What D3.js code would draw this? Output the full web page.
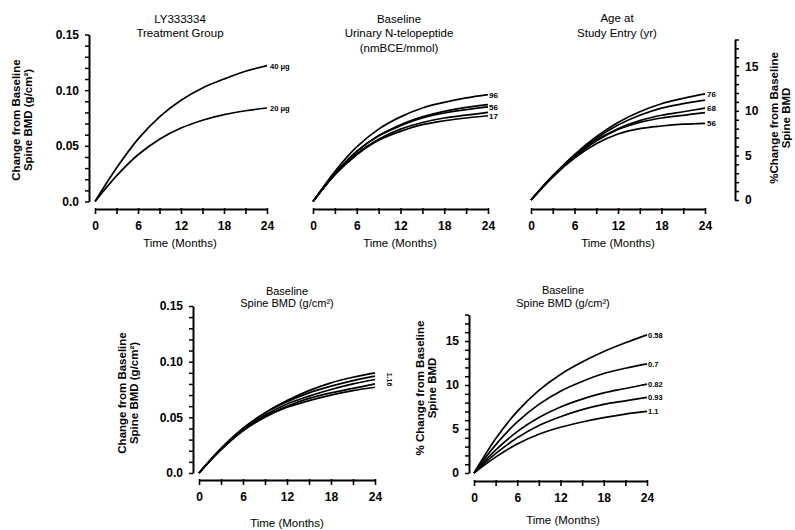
<!DOCTYPE html>
<html><head><meta charset="utf-8">
<script src="https://cdn.jsdelivr.net/npm/d3@7"></script>
<style>
body{margin:0;background:#fff;}
text{font-family:"Liberation Sans",Arial,sans-serif;fill:#000;}
</style></head><body>
<svg id="c" width="795" height="530"></svg>
<script>
const months = [0,3,6,9,12,15,18,21,24];
const xTicks = [0,3,6,9,12,15,18,21,24];
const xTickLabels = [0,6,12,18,24];
const bmdTickLabels = [0,0.05,0.10,0.15];
const pctTickLabels = [0,5,10,15];

// Panel 1: treatment group (g/cm2)
const treatNames = ["40 μg","20 μg"];
const treat40 = [0,0.030,0.056,0.076,0.091,0.102,0.110,0.117,0.122];
const treat20 = [0,0.023,0.042,0.056,0.066,0.073,0.078,0.0815,0.084];

// Panel 2: baseline urinary NTX (g/cm2)
const ntxLabels = ["96","","56","","17"];
const ntx1 = [0,0.027,0.049,0.065,0.076,0.084,0.089,0.093,0.096];
const ntx2 = [0,0.025,0.045,0.059,0.069,0.076,0.081,0.0845,0.087];
const ntx3 = [0,0.025,0.045,0.059,0.068,0.075,0.0795,0.0825,0.085];
const ntx4 = [0,0.024,0.043,0.056,0.065,0.071,0.075,0.0775,0.080];
const ntx5 = [0,0.024,0.042,0.055,0.063,0.069,0.0725,0.075,0.077];

// Panel 3: age at entry (% change)
const ageLabels = ["76","","68","","56"];
const age1 = [0,2.7,5.1,7.1,8.7,9.9,10.8,11.4,11.9];
const age2 = [0,2.7,5.0,6.9,8.4,9.5,10.3,10.8,11.2];
const age3 = [0,2.7,4.9,6.7,8.0,8.9,9.5,9.9,10.3];
const age4 = [0,2.6,4.8,6.6,7.9,8.7,9.2,9.5,9.8];
const age5 = [0,2.6,4.7,6.3,7.4,8.0,8.3,8.5,8.6];

// Panel 4: baseline spine BMD (g/cm2)
const bmdAbs1 = [0,0.022,0.040,0.054,0.065,0.074,0.081,0.086,0.090];
const bmdAbs2 = [0,0.022,0.040,0.054,0.064,0.072,0.078,0.083,0.087];
const bmdAbs3 = [0,0.022,0.039,0.052,0.062,0.069,0.075,0.080,0.084];
const bmdAbs4 = [0,0.021,0.038,0.051,0.060,0.067,0.072,0.076,0.080];
const bmdAbs5 = [0,0.021,0.038,0.050,0.059,0.065,0.070,0.074,0.077];

// Panel 5: baseline spine BMD (% change)
const bmdPctLabels = ["0.58","0.7","0.82","0.93","1.1"];
const bmdPct1 = [0,3.9,7.0,9.4,11.2,12.6,13.8,14.8,15.7];
const bmdPct2 = [0,3.2,5.8,7.8,9.3,10.4,11.3,11.9,12.4];
const bmdPct3 = [0,2.6,4.7,6.3,7.5,8.4,9.1,9.6,10.1];
const bmdPct4 = [0,2.2,4.0,5.4,6.4,7.2,7.8,8.2,8.6];
const bmdPct5 = [0,1.8,3.3,4.4,5.2,5.8,6.3,6.7,7.0];

const svg = d3.select("#c");

function xAxis(x, yPos){
  const g = svg.append("g").attr("transform",`translate(0,${yPos})`);
  g.call(d3.axisBottom(x).tickValues(xTicks).tickSize(5).tickSizeOuter(0)
      .tickFormat(d => xTickLabels.includes(d) ? d : ""));
  g.select(".domain").attr("stroke","#000").attr("stroke-width",2);
  g.selectAll(".tick line").attr("stroke","#000").attr("stroke-width",1.6)
    .attr("y1",-1);
  g.selectAll(".tick text").attr("dy","1.05em").style("font-size","12px").style("font-weight","bold");
  return g;
}
function yAxis(y, xPos, majors, step, fmt, right){
  const [d0,d1] = y.domain();
  const vals = d3.range(d0, d1 + step/2, step).map(v => +v.toFixed(4));
  const ax = right ? d3.axisRight(y) : d3.axisLeft(y);
  const g = svg.append("g").attr("transform",`translate(${xPos},0)`);
  g.call(ax.tickValues(vals).tickSize(4).tickSizeOuter(0).tickPadding(6)
      .tickFormat(d => majors.some(m => Math.abs(m-d)<1e-6) ? fmt(d) : ""));
  g.select(".domain").attr("stroke","#000").attr("stroke-width",2);
  g.selectAll(".tick line").attr("stroke","#000").attr("stroke-width",1.5);
  g.selectAll(".tick text").style("font-size","12px").style("font-weight","bold");
  return g;
}
function curves(x, y, series, labels, labelDx, fs){
  const line = d3.line().x((d,i)=>x(months[i])).y(d=>y(d)).curve(d3.curveCatmullRom.alpha(0.5));
  series.forEach((s,k)=>{
    svg.append("path").attr("d", line(s)).attr("fill","none")
      .attr("stroke","#000").attr("stroke-width",1.7);
    if (labels && labels[k]) {
      svg.append("text").attr("x", x(24)+labelDx).attr("y", y(s[s.length-1])+3)
        .style("font-size",(fs||8)+"px").style("font-weight","bold").text(labels[k]);
    }
  });
}
function title(lines, cx, ys, size){
  lines.forEach((t,i)=>svg.append("text").attr("x",cx).attr("y",ys[i])
    .attr("text-anchor","middle").style("font-size",(size||11.5)+"px").text(t));
}
function yLabel(lines, cx, cy, dx){
  lines.forEach((t,i)=>svg.append("text")
    .attr("transform",`translate(${cx + i*dx},${cy}) rotate(-90)`)
    .attr("text-anchor","middle").style("font-size","11.5px").style("font-weight","bold").text(t));
}
function timeLabel(cx, yy){
  svg.append("text").attr("x",cx).attr("y",yy).attr("text-anchor","middle")
    .style("font-size","11.5px").text("Time (Months)");
}
const fmtB = d => d===0 ? "0.0" : d3.format(".2f")(d);
const fmtP = d => d3.format("d")(d);

// Top row shared y scales
const yTopB = d3.scaleLinear().domain([0,0.15]).range([201.5,34.5]);
const yTopP = d3.scaleLinear().domain([0,18]).range([200,39.5]);

// Panel 1
const x1 = d3.scaleLinear().domain([0,24]).range([95,267]);
xAxis(x1, 209);
yAxis(yTopB, 89, bmdTickLabels, 0.01, fmtB, false);
curves(x1, yTopB, [treat40, treat20], treatNames, 3, 7.5);
title(["LY333334","Treatment Group"], 180, [23,37]);
timeLabel(180, 247);
yLabel(["Change from Baseline","Spine BMD (g/cm²)"], 20, 120, 12);

// Panel 2
const x2 = d3.scaleLinear().domain([0,24]).range([313,488]);
xAxis(x2, 209);
curves(x2, yTopB, [ntx1,ntx2,ntx3,ntx4,ntx5], ntxLabels, 1, 8);
title(["Baseline","Urinary N-telopeptide","(nmBCE/mmol)"], 399, [23,37,52]);
timeLabel(400, 247);

// Panel 3
const x3 = d3.scaleLinear().domain([0,24]).range([531,705]);
xAxis(x3, 209);
yAxis(yTopP, 735, pctTickLabels, 1, fmtP, true);
curves(x3, yTopP, [age1,age2,age3,age4,age5], ageLabels, 2, 8);
title(["Age at","Study Entry (yr)"], 617, [22,37]);
timeLabel(618, 247);
yLabel(["%Change from Baseline","Spine BMD"], 778, 118, 12);

// Panel 4
const x4 = d3.scaleLinear().domain([0,24]).range([199,375]);
const y4 = d3.scaleLinear().domain([0,0.15]).range([473,306]);
xAxis(x4, 480);
yAxis(y4, 193, bmdTickLabels, 0.01, fmtB, false);
curves(x4, y4, [bmdAbs1,bmdAbs2,bmdAbs3,bmdAbs4,bmdAbs5], null, 0);
svg.append("text").attr("transform",`translate(${x4(24)+12},${y4(0.084)}) rotate(90)`)
  .attr("text-anchor","middle").style("font-size","7px").style("font-weight","bold").text("1.16");
title(["Baseline","Spine BMD (g/cm²)"], 287, [295,307], 11);
timeLabel(287, 527);
yLabel(["Change from Baseline","Spine BMD (g/cm²)"], 126, 393, 12);

// Panel 5
const x5 = d3.scaleLinear().domain([0,24]).range([474,647]);
const y5 = d3.scaleLinear().domain([0,18]).range([473,314.6]);
xAxis(x5, 481);
yAxis(y5, 469, pctTickLabels, 1, fmtP, false);
curves(x5, y5, [bmdPct1,bmdPct2,bmdPct3,bmdPct4,bmdPct5], bmdPctLabels, 1, 7.5);
title(["Baseline","Spine BMD (g/cm²)"], 563, [294,307], 11);
timeLabel(563, 524);
yLabel(["% Change from Baseline","Spine BMD"], 424, 388, 12);
</script></body></html>
